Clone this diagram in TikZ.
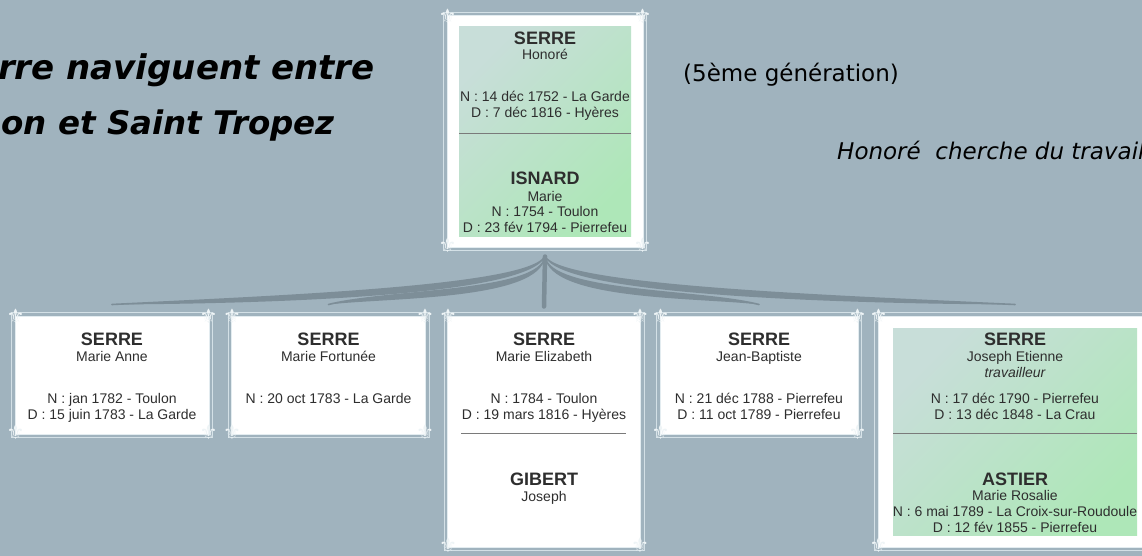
\documentclass[tikz,border=0pt]{standalone}
\usepackage{fontspec}
\setmainfont{Liberation Sans}
\newfontfamily\notefont{DejaVu Sans}
\newfontfamily\ornfont{DejaVu Sans}
\usepackage{tikz}
\usetikzlibrary{calc}

\definecolor{fond}{HTML}{A0B3BE}
\definecolor{lienc}{HTML}{7D8E98}
\definecolor{bordc}{HTML}{E3ECF0}
\definecolor{cadrec}{HTML}{D3E0E6}
\definecolor{vertA}{HTML}{C8DED9}
\definecolor{vertB}{HTML}{AEE7B8}
\definecolor{txt}{HTML}{2E2E2E}
\definecolor{traitc}{HTML}{7A7A7A}
\definecolor{ornc}{HTML}{EEF4F6}

\tikzstyle{card}=[draw=bordc,fill=white,line width=1pt,inner sep=0pt,minimum width=196pt,minimum height=231pt]
\tikzstyle{cadre}=[draw=cadrec,line width=0.8pt]
\tikzstyle{orn}=[font=\ornfont\fontsize{20}{20}\selectfont,text=ornc,inner sep=0pt]
\tikzstyle{nom}=[anchor=base,inner sep=0pt,text=txt,font=\bfseries\fontsize{18}{20}\selectfont]
\tikzstyle{info}=[anchor=base,inner sep=0pt,text=txt,font=\fontsize{14}{16}\selectfont]
\tikzstyle{lien}=[draw=lienc,line width=4.5pt,line cap=round]
\tikzstyle{trait}=[draw=traitc,line width=0.8pt]
\tikzstyle{vert}=[top color=vertA,bottom color=vertB,shading angle=45]

% frame and corner ornaments of a card
\newcommand{\cadre}[1]{%
\draw[cadre] ([shift={(-3,-3)}]#1.north west) rectangle ([shift={(3,3)}]#1.south east);
\node[orn] (#1-nw) at ([shift={(1,1)}]#1.north west) {⚜};
\node[orn] (#1-ne) at ([shift={(-1,1)}]#1.north east) {⚜};
\node[orn] (#1-sw) at ([shift={(1,-2)}]#1.south west) {⚜};
\node[orn] (#1-se) at ([shift={(-1,-2)}]#1.south east) {⚜};
}

% brush link from the hub to a card: target, hub control, card control
\newcommand{\lien}[3]{%
\fill[lienc] (hub) .. controls ($(hub)+(#2)$) and ($(#1.north)+(#3)$) .. ($(#1.north)+(0,-11)$)
.. controls ($(#1.north)+(#3)+(0,8)$) and ($(hub)+(#2)+(0,8)$) .. (hub) -- cycle;
\draw[lienc,line width=1.6pt,line cap=round] (hub) .. controls ($(hub)+(#2)$) and ($(#1.north)+(#3)$) .. ($(#1.north)+(0,-11)$);
}

\begin{document}
\begin{tikzpicture}[x=1pt,y=-1pt]

\useasboundingbox (0,0) rectangle (1142,556);
\fill[fond] (0,0) rectangle (1142,556);

%%% Title and notes

\node[anchor=base east,inner sep=0pt,font=\notefont\bfseries\itshape\fontsize{34}{36}\selectfont]
(titre1) at (375,80) {rre naviguent entre};
\node[anchor=base east,inner sep=0pt,font=\notefont\bfseries\itshape\fontsize{32.5}{36}\selectfont]
(titre2) at (335,135) {on et Saint Tropez};

\node[anchor=base west,inner sep=0pt,font=\notefont\fontsize{23}{26}\selectfont]
(gen) at (683,82) {(5ème génération)};

\node[anchor=base west,inner sep=0pt,font=\notefont\itshape\fontsize{23}{26}\selectfont]
(note) at (837,160) {Honoré\ \ cherche du travail};

%%% Cards

\node[card] (parent) at (545,131.5) {};
\node[card,minimum width=194pt,minimum height=118pt] (b1) at (112,375) {};
\node[card,minimum width=194pt,minimum height=118pt] (b2) at (328.5,375) {};
\node[card,minimum width=193pt] (b3) at (544,431.5) {};
\node[card,minimum width=198pt,minimum height=118pt] (b4) at (759,375) {};
\node[card,minimum width=274pt] (b5) at (1015,431.5) {};

%%% Links

\coordinate (hub) at ($(parent.south)+(0,9)$);

% Marie Anne
\lien{b1}{-15,29}{189,-20}

% Marie Fortunee
\lien{b2}{-4,36}{60,-26}

% Marie Elizabeth
\draw[lien] (hub) -- ($(b3.north)+(0,-9)$);

% Jean-Baptiste
\lien{b4}{4,36}{-60,-26}

% Joseph Etienne
\lien{b5}{15,29}{-200,-20}

%%% Green couples and frames

\shade[vert] (459,27) rectangle (631,236);
\shade[vert] (893,328) rectangle (1137,535);

\draw[trait] (459,133) -- (631,133);
\draw[trait] (461,433) -- (626,433);
\draw[trait] (893,433) -- (1137,433);

\cadre{parent}
\cadre{b1}
\cadre{b2}
\cadre{b3}
\cadre{b4}
\cadre{b5}

%%% Honore and Marie

\node[nom] (p1) at (545,45) {SERRE};
\node[info] (p2) at (545,60) {Honoré};
\node[info] (p3) at (545,102) {N : 14 déc 1752 - La Garde};
\node[info] (p4) at (545,118) {D : 7 déc 1816 - Hyères};
\node[nom] (p5) at (545,185) {ISNARD};
\node[info] (p6) at (545,201) {Marie};
\node[info] (p7) at (545,216) {N : 1754 - Toulon};
\node[info] (p8) at (545,232) {D : 23 fév 1794 - Pierrefeu};

%%% Children

% Marie Anne
\node[nom] (c11) at (112,345) {SERRE};
\node[info] (c12) at (112,361) {Marie Anne};
\node[info] (c13) at (112,403) {N : jan 1782 - Toulon};
\node[info] (c14) at (112,419) {D : 15 juin 1783 - La Garde};

% Marie Fortunee
\node[nom] (c21) at (328.5,345) {SERRE};
\node[info] (c22) at (328.5,361) {Marie Fortunée};
\node[info] (c23) at (328.5,403) {N : 20 oct 1783 - La Garde};

% Marie Elizabeth
\node[nom] (c31) at (544,345) {SERRE};
\node[info] (c32) at (544,361) {Marie Elizabeth};
\node[info] (c33) at (544,403) {N : 1784 - Toulon};
\node[info] (c34) at (544,419) {D : 19 mars 1816 - Hyères};
\node[nom] (c35) at (544,485) {GIBERT};
\node[info] (c36) at (544,501) {Joseph};

% Jean-Baptiste
\node[nom] (c41) at (759,345) {SERRE};
\node[info] (c42) at (759,361) {Jean-Baptiste};
\node[info] (c43) at (759,403) {N : 21 déc 1788 - Pierrefeu};
\node[info] (c44) at (759,419) {D : 11 oct 1789 - Pierrefeu};

% Joseph Etienne
\node[nom] (c51) at (1015,345) {SERRE};
\node[info] (c52) at (1015,361) {Joseph Etienne};
\node[info,font=\itshape\fontsize{14}{16}\selectfont] (c53) at (1015,377) {travailleur};
\node[info] (c54) at (1015,403) {N : 17 déc 1790 - Pierrefeu};
\node[info] (c55) at (1015,419) {D : 13 déc 1848 - La Crau};
\node[nom] (c56) at (1015,485) {ASTIER};
\node[info] (c57) at (1015,500) {Marie Rosalie};
\node[info] (c58) at (1015,516) {N : 6 mai 1789 - La Croix-sur-Roudoule};
\node[info] (c59) at (1015,532) {D : 12 fév 1855 - Pierrefeu};

\end{tikzpicture}
\end{document}
